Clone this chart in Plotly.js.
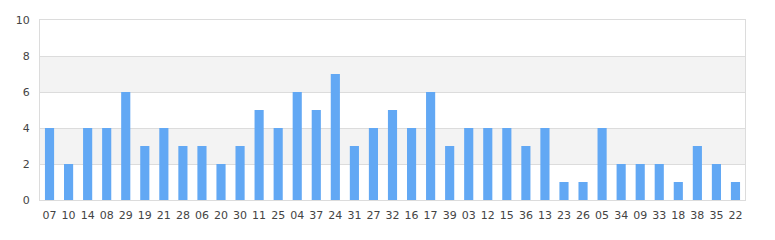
<!DOCTYPE html>
<html>
<head>
<meta charset="utf-8">
<script src="https://cdn.plot.ly/plotly-3.0.1.min.js"></script>
<style>
  html, body { margin: 0; padding: 0; background: #fff; }
  #chart { width: 775px; height: 240px; }
</style>
</head>
<body>
<div id="chart"></div>
<script>
// Category labels along the x axis
const categories = ["07","10","14","08","29","19","21","28","06","20","30","11","25","04","37","24","31","27","32","16","17","39","03","12","15","36","13","23","26","05","34","09","33","18","38","35","22"];
// Count for each category
const counts = [4,2,4,4,6,3,4,3,3,2,3,5,4,6,5,7,3,4,5,4,6,3,4,4,4,3,4,1,1,4,2,2,2,1,3,2,1];
// Y axis ticks
const yTicks = [0,2,4,6,8,10];

// Alternating shaded bands between gridlines
const bands = [];
for (let i = 0; i < yTicks.length - 1; i++) {
  if (i % 2 === 1) {
    bands.push({
      type: 'rect', xref: 'paper', yref: 'y', layer: 'below',
      x0: 0, x1: 1, y0: yTicks[i], y1: yTicks[i + 1],
      fillcolor: '#f3f3f3', line: { width: 0 }
    });
  }
}

const trace = {
  type: 'bar',
  x: categories,
  y: counts,
  marker: { color: '#62a8f4' },
  hoverinfo: 'x+y'
};

const layout = {
  width: 775,
  height: 240,
  margin: { l: 40, r: 30, t: 20, b: 40 },
  paper_bgcolor: '#ffffff',
  plot_bgcolor: 'rgba(0,0,0,0)',
  bargap: 0.52,
  showlegend: false,
  font: { family: 'DejaVu Sans, sans-serif', size: 11, color: '#444' },
  xaxis: {
    type: 'category',
    showgrid: false,
    showline: true, mirror: true, linecolor: '#dcdcdc', linewidth: 1,
    ticks: '', ticklen: 0,
    ticklabelstandoff: 5,
    tickfont: { size: 11, color: '#444' },
    tickangle: 0
  },
  yaxis: {
    range: [0, 10],
    tickvals: yTicks,
    showgrid: true, gridcolor: '#dcdcdc', gridwidth: 1,
    showline: true, mirror: true, linecolor: '#dcdcdc', linewidth: 1,
    zeroline: false,
    ticks: '', ticklen: 0,
    ticklabelstandoff: 7,
    tickfont: { size: 11, color: '#444' }
  },
  shapes: bands
};

Plotly.newPlot('chart', [trace], layout, { displayModeBar: false, staticPlot: true });
</script>
</body>
</html>
